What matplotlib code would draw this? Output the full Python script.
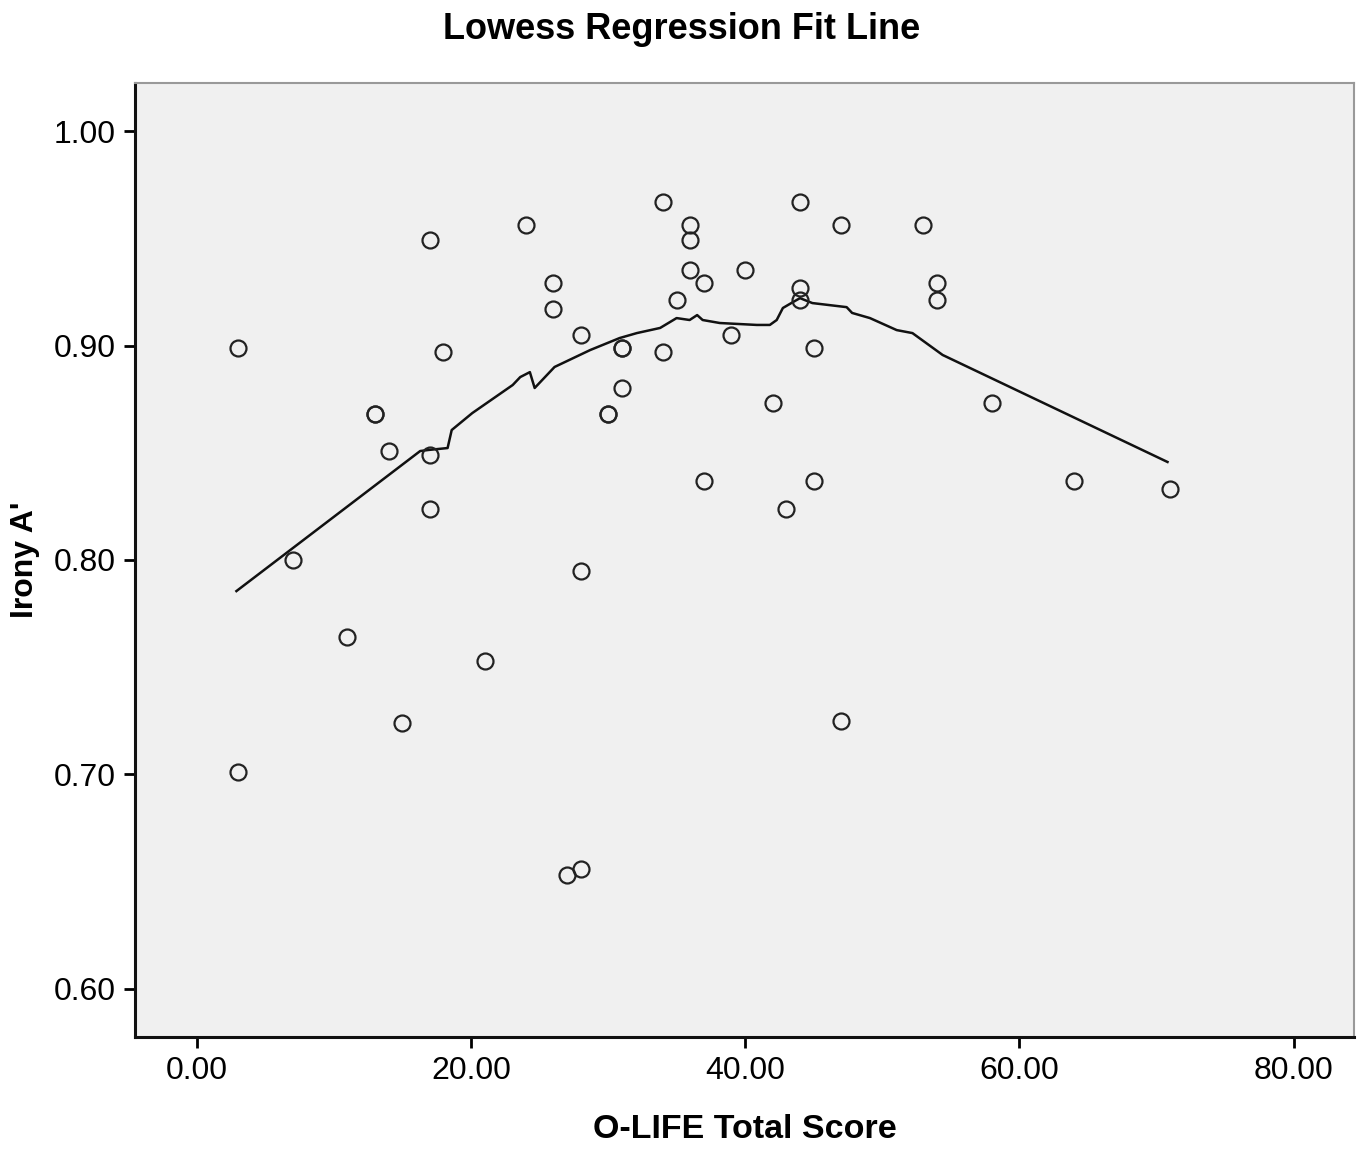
import matplotlib
matplotlib.use("Agg")
import matplotlib.pyplot as plt

plt.rcParams['font.family'] = ['Liberation Sans', 'DejaVu Sans']

# ─── Data ───────────────────────────────────────────────
olife = [3, 3, 7, 11, 13, 13, 14, 15, 17, 17, 17, 18, 21, 24, 26, 26, 27, 28, 28, 28,
         30, 30, 31, 31, 31, 34, 34, 35, 36, 36, 36, 37, 37, 39, 40, 42, 43, 44, 44, 44,
         45, 45, 47, 47, 53, 54, 54, 58, 64, 71]
irony = [0.899, 0.701, 0.800, 0.764, 0.868, 0.868, 0.851, 0.724, 0.949, 0.849, 0.824,
         0.897, 0.753, 0.956, 0.929, 0.917, 0.653, 0.656, 0.905, 0.795,
         0.868, 0.868, 0.899, 0.899, 0.880, 0.967, 0.897, 0.921, 0.956, 0.949, 0.935,
         0.929, 0.837, 0.905, 0.935, 0.873, 0.824, 0.967, 0.927, 0.921,
         0.899, 0.837, 0.956, 0.725, 0.956, 0.929, 0.921, 0.873, 0.837, 0.833]

# lowess fit line, traced vertex by vertex
fit_x = [2.9, 16.3, 16.9, 18.3, 18.6, 20.1, 23.05, 23.6, 24.3, 24.65, 26.1, 28.7, 30.85,
         32.1, 33.8, 35.0, 35.95, 36.5, 36.9, 38.15, 40.85, 41.8, 42.3, 42.75, 43.5, 44.0,
         44.9, 47.4, 47.8, 49.1, 51.05, 52.2, 54.4, 70.8]
fit_y = [0.7855, 0.8508, 0.8513, 0.8522, 0.8606, 0.8685, 0.8816, 0.8853, 0.8876, 0.8802,
         0.8900, 0.8979, 0.9035, 0.9058, 0.9082, 0.9128, 0.9119, 0.9142, 0.9119, 0.9105,
         0.9096, 0.9096, 0.9119, 0.9175, 0.9203, 0.9221, 0.9198, 0.9179, 0.9152, 0.9128,
         0.9072, 0.9058, 0.8956, 0.8457]

xticks = [0, 20, 40, 60, 80]
yticks = [0.60, 0.70, 0.80, 0.90, 1.00]

# ─── Plot ───────────────────────────────────────────────
fig = plt.figure(figsize=(13.63, 11.5), dpi=100)
ax = fig.add_axes([0.099, 0.0983, 0.8944, 0.8295])
ax.set_facecolor("#f0f0f0")

ax.plot(fit_x, fit_y, color="#111111", lw=1.8, zorder=2)
ax.plot(olife, irony, linestyle="none", marker="o", ms=11.5, mfc="none",
        mec="#222222", mew=1.6, zorder=3)

ax.set_xlim(-4.5, 84.4)
ax.set_ylim(0.5776, 1.0224)
ax.set_xticks(xticks)
ax.set_xticklabels([f"{v:.2f}" for v in xticks])
ax.set_yticks(yticks)
ax.set_yticklabels([f"{v:.2f}" for v in yticks])
ax.tick_params(axis="both", direction="out", length=8, width=2, labelsize=23,
               pad=6, top=False, right=False)

for side in ["left", "bottom"]:
    ax.spines[side].set_color("#111111")
    ax.spines[side].set_linewidth(2.2)
for side in ["top", "right"]:
    ax.spines[side].set_color("#999999")
    ax.spines[side].set_linewidth(1.5)

ax.set_xlabel("O-LIFE Total Score", fontsize=24.5, fontweight="bold", labelpad=20)
ax.set_ylabel("Irony A'", fontsize=23, fontweight="bold", labelpad=10)
fig.text(0.5, 0.974, "Lowess Regression Fit Line", ha="center", va="center",
         fontsize=26, fontweight="bold")

fig.savefig("out.png", dpi=100)
